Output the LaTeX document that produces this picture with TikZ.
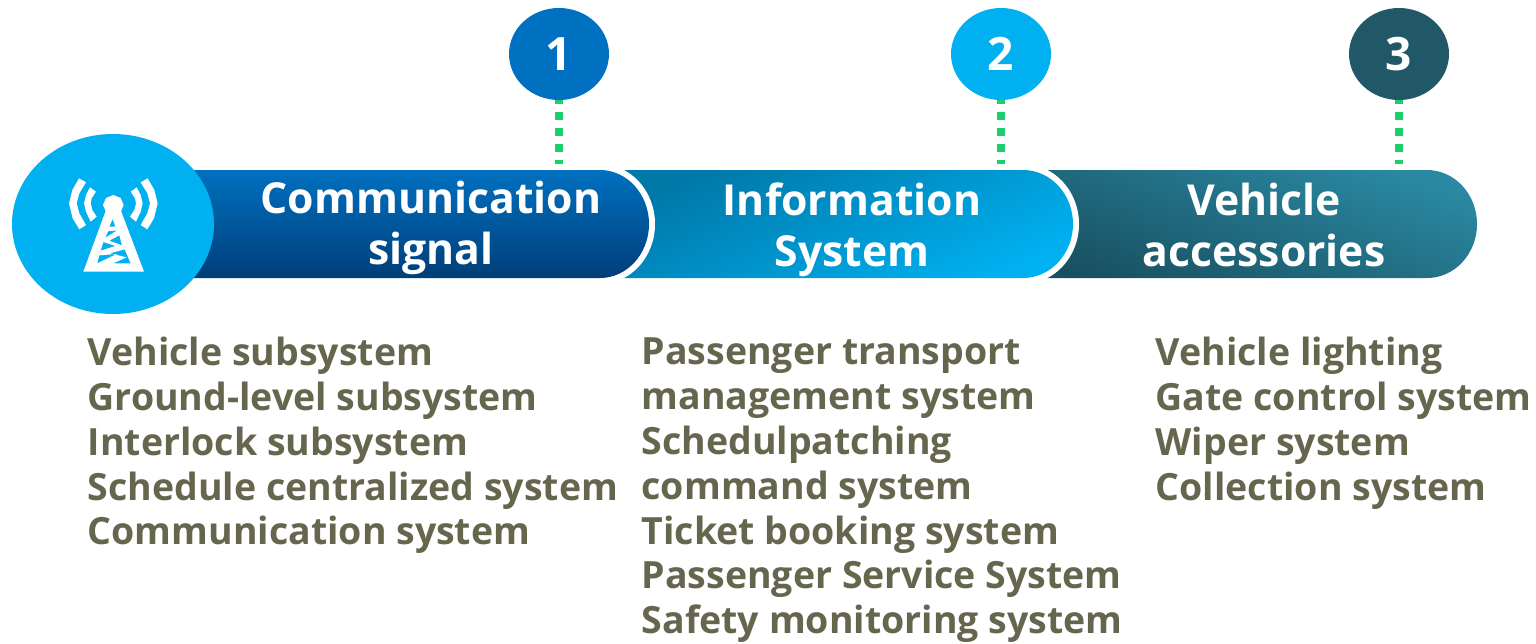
\documentclass[tikz,border=0pt]{standalone}
\usepackage{fontspec}
\setmainfont{Open Sans}[BoldFont={Open Sans Bold}]
\usetikzlibrary{shapes.geometric}
\definecolor{listgray}{HTML}{66664F}
\definecolor{dotgreen}{HTML}{1BCF6A}
\definecolor{cone}{HTML}{0070C0}
\definecolor{conedark}{HTML}{003E78}
\definecolor{ctwo}{HTML}{00B0F0}
\definecolor{ctwodark}{HTML}{0078A8}
\definecolor{cthree}{HTML}{215868}
\definecolor{cthreelight}{HTML}{2A88A2}
\definecolor{cthreedark}{HTML}{185060}
\tikzset{
 barlabel/.style={text=white,font=\fontsize{42.7}{51}\selectfont\bfseries,align=center,anchor=center,inner sep=0pt},
 listtext/.style={text=listgray,font=\fontsize{37.5}{44.8}\selectfont\bfseries,align=left,anchor=north west,inner sep=0pt},
 badge/.style={ellipse,minimum width=100pt,minimum height=92pt,inner sep=0pt,text=white,font=\fontsize{46}{50}\selectfont\bfseries},
 stem/.style={draw=dotgreen,line width=8pt,dash pattern=on 8pt off 8pt,dash phase=4pt},
}
\begin{document}
\begin{tikzpicture}[x=1pt,y=-1pt]
\useasboundingbox (0,0) rectangle (1536,643);
% bars
\shade[top color=cthreelight,bottom color=cthreedark,shading angle=-20]
 (1000,170) -- (1427,170) arc[start angle=-90,end angle=90,x radius=50,y radius=54] -- (1000,278) -- cycle;
\begin{scope}
\clip (600,170) rectangle (1100,278);
\fill[white] (640,164) -- (1023,164) arc[start angle=-90,end angle=90,x radius=56,y radius=60] -- (640,284)--cycle;
\end{scope}
\shade[top color=ctwodark,bottom color=ctwo,shading angle=25]
 (620,170) -- (1023,170) arc[start angle=-90,end angle=90,x radius=50,y radius=54] -- (620,278) -- cycle;
\begin{scope}
\clip (560,170) rectangle (700,278);
\fill[white] (560,164) -- (600,164) arc[start angle=-90,end angle=90,x radius=55,y radius=60] -- (560,284)--cycle;
\end{scope}
\shade[top color=cone,bottom color=conedark]
 (190,170) -- (600,170) arc[start angle=-90,end angle=90,x radius=49,y radius=54] -- (190,278) -- cycle;
% badges and stems
\node[badge,fill=cone] (b1) at (559,54) {\raisebox{-1.5pt}{1}};
\node[badge,fill=ctwo] (b2) at (1001,54) {\raisebox{-1.5pt}{2}};
\node[badge,fill=cthree] (b3) at (1399,54) {\raisebox{-1.5pt}{3}};
\coordinate (e1) at (559,164); \coordinate (e2) at (1001,164); \coordinate (e3) at (1399,164);
\draw[stem] (b1.south) -- (e1);
\draw[stem] (b2.south) -- (e2);
\draw[stem] (b3.south) -- (e3);
% hub
\node[ellipse,fill=ctwo,minimum width=202pt,minimum height=180pt,inner sep=0pt] (hub) at (113,224) {};
% icon
\begin{scope}[shift={(60,170)},x=0.3333pt,y=-0.3333pt]
\fill[white] (160,75)--(182,84)--(191,105)--(182,126)--(160,135)--(138,126)--(129,105)--(138,84)--cycle;
\fill[white,even odd rule] (70,305) -- (138,120) -- (182,120) -- (252,305) -- cycle
 (158,147)--(166,170)--(148,170)--cycle
 (144,184)--(172,181)--(136,203)--cycle
 (178,196)--(186,226)--(148,212)--cycle
 (130,216)--(166,228)--(122,242)--cycle
 (194,238)--(212,280)--(160,280)--(200,262)--(150,250)--cycle
 (118,256)--(170,252)--(112,280)--cycle;
\foreach \s in {1,-1}{
\begin{scope}[shift={(160,0)},xscale=\s]
\fill[white] (-103,25)--(-82,37)--(-102,70)--(-110,100)--(-102,130)--(-82,165)--(-102,178)--(-122,145)--(-133,100)--(-123,60)--cycle;
\fill[white] (-70,52)--(-52,65)--(-65,85)--(-68,100)--(-63,120)--(-50,140)--(-68,155)--(-82,125)--(-88,100)--(-82,75)--cycle;
\end{scope}}
\end{scope}
% labels
\node[barlabel] (l1) at (431,228) {Communication\\signal};
\node[barlabel] (l2) at (852,229.5) {Information\\System};
\node[barlabel] (l3) at (1264,225) {Vehicle\\accessories};
\node[listtext] (t1) at (87.5,337) {Vehicle subsystem\\Ground-level subsystem\\Interlock subsystem\\Schedule centralized system\\Communication system};
\node[listtext] (t2) at (641.5,338) {Passenger transport\\management system\\Schedulpatching\\command system\\Ticket booking system\\Passenger Service System\\Safety monitoring system};
\node[listtext] (t3) at (1155.5,337) {Vehicle lighting\\Gate control system\\Wiper system\\Collection system};
\end{tikzpicture}
\end{document}
